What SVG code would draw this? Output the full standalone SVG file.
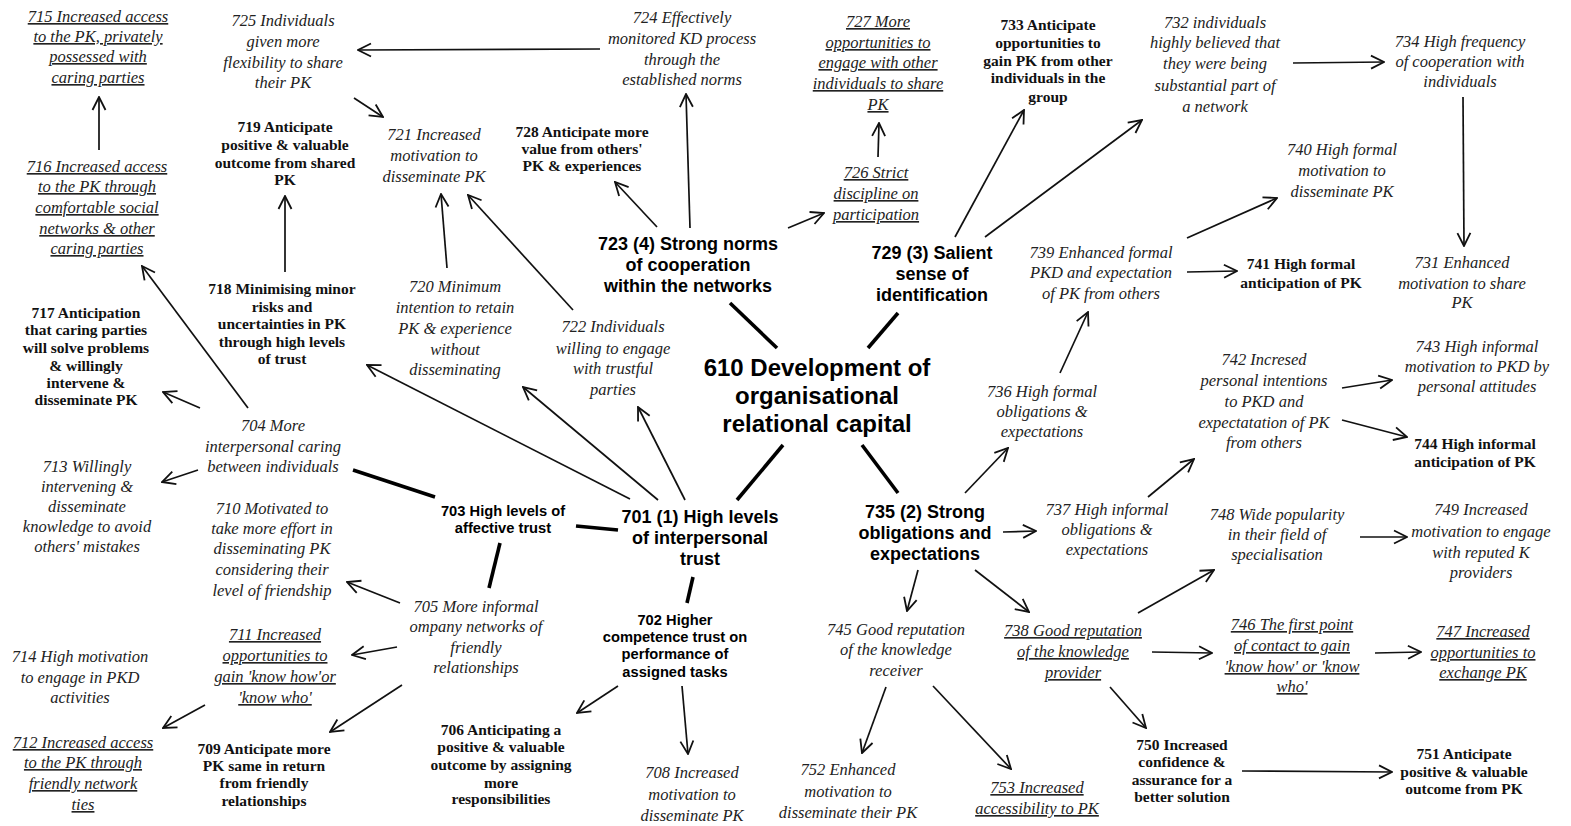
<svg xmlns="http://www.w3.org/2000/svg" width="1571" height="826" viewBox="0 0 1571 826">
<defs>
<style>
text{text-anchor:middle}
.it{font-family:"Liberation Serif","Times New Roman",serif;font-style:italic;font-size:16.5px;fill:#222}
.ul{text-decoration:underline}
.bs{font-family:"Liberation Serif","Times New Roman",serif;font-weight:bold;font-size:15.5px;fill:#111}
.bh{font-family:"Liberation Sans",Arial,sans-serif;font-weight:bold;font-size:18px;fill:#000}
.bh2{font-family:"Liberation Sans",Arial,sans-serif;font-weight:bold;font-size:14.7px;fill:#000}
.title{font-family:"Liberation Sans",Arial,sans-serif;font-weight:bold;font-size:24px;fill:#000}
.ar{stroke:#111;stroke-width:1.7;fill:none;marker-end:url(#ah)}
.tk{stroke:#000;stroke-width:3.6;fill:none}
</style>
<marker id="ah" viewBox="0 0 16 16" refX="15" refY="8" markerWidth="16" markerHeight="16" markerUnits="userSpaceOnUse" orient="auto">
<path d="M2,1.5 L15,8 L2,14.5" fill="none" stroke="#111" stroke-width="1.8"/>
</marker>
</defs>
<rect width="1571" height="826" fill="#fff"/>

<g id="connectors">
<line class="ar" x1="600" y1="49" x2="358" y2="50"/>
<line class="ar" x1="354" y1="98" x2="383" y2="117"/>
<line class="ar" x1="285" y1="272" x2="285" y2="196"/>
<line class="ar" x1="99" y1="150" x2="99" y2="97"/>
<line class="ar" x1="248" y1="408" x2="142" y2="266"/>
<line class="ar" x1="200" y1="408" x2="163" y2="392"/>
<line class="ar" x1="198" y1="470" x2="162" y2="482"/>
<line class="ar" x1="630" y1="499" x2="367" y2="365"/>
<line class="ar" x1="658" y1="500" x2="523" y2="387"/>
<line class="ar" x1="685" y1="500" x2="638" y2="407"/>
<line class="ar" x1="447" y1="268" x2="441" y2="194"/>
<line class="ar" x1="573" y1="310" x2="468" y2="195"/>
<line class="ar" x1="690" y1="228" x2="686" y2="94"/>
<line class="ar" x1="657" y1="227" x2="615" y2="182"/>
<line class="ar" x1="788" y1="228" x2="824" y2="213"/>
<line class="ar" x1="878" y1="157" x2="879" y2="123"/>
<line class="ar" x1="955" y1="237" x2="1024" y2="110"/>
<line class="ar" x1="985" y1="237" x2="1142" y2="120"/>
<line class="ar" x1="1293" y1="63" x2="1384" y2="62"/>
<line class="ar" x1="1463" y1="97" x2="1464" y2="246"/>
<line class="ar" x1="1187" y1="238" x2="1277" y2="198"/>
<line class="ar" x1="1187" y1="272" x2="1237" y2="271"/>
<line class="ar" x1="1060" y1="373" x2="1088" y2="312"/>
<line class="ar" x1="965" y1="493" x2="1008" y2="448"/>
<line class="ar" x1="1003" y1="532" x2="1036" y2="531"/>
<line class="ar" x1="1148" y1="497" x2="1194" y2="459"/>
<line class="ar" x1="1342" y1="388" x2="1392" y2="380"/>
<line class="ar" x1="1342" y1="420" x2="1407" y2="437"/>
<line class="ar" x1="1138" y1="613" x2="1214" y2="570"/>
<line class="ar" x1="1360" y1="537" x2="1407" y2="537"/>
<line class="ar" x1="918" y1="570" x2="907" y2="611"/>
<line class="ar" x1="975" y1="570" x2="1029" y2="612"/>
<line class="ar" x1="1152" y1="652" x2="1212" y2="653"/>
<line class="ar" x1="1375" y1="653" x2="1421" y2="652"/>
<line class="ar" x1="1110" y1="687" x2="1146" y2="728"/>
<line class="ar" x1="1242" y1="771" x2="1392" y2="772"/>
<line class="ar" x1="886" y1="687" x2="862" y2="753"/>
<line class="ar" x1="933" y1="686" x2="1011" y2="769"/>
<line class="ar" x1="618" y1="686" x2="577" y2="713"/>
<line class="ar" x1="682" y1="686" x2="688" y2="754"/>
<line class="ar" x1="400" y1="603" x2="347" y2="582"/>
<line class="ar" x1="397" y1="647" x2="352" y2="655"/>
<line class="ar" x1="402" y1="685" x2="330" y2="732"/>
<line class="ar" x1="205" y1="705" x2="163" y2="728"/>
<line class="tk" x1="353" y1="470" x2="435" y2="497"/>
<line class="tk" x1="576" y1="526" x2="618" y2="530"/>
<line class="tk" x1="500" y1="543" x2="489" y2="588"/>
<line class="tk" x1="737" y1="500" x2="783" y2="445"/>
<line class="tk" x1="693" y1="577" x2="687" y2="603"/>
<line class="tk" x1="730" y1="303" x2="777" y2="348"/>
<line class="tk" x1="898" y1="313" x2="868" y2="348"/>
<line class="tk" x1="862" y1="445" x2="898" y2="493"/>
</g>

<g id="n610"><text class="title"><tspan x="817" y="376">610 Development of</tspan><tspan x="817" y="404">organisational</tspan><tspan x="817" y="432">relational capital</tspan></text></g>
<g id="n701"><text class="bh"><tspan x="700" y="523">701 (1) High levels</tspan><tspan x="700" y="544">of interpersonal</tspan><tspan x="700" y="565">trust</tspan></text></g>
<g id="n723"><text class="bh"><tspan x="688" y="250">723 (4) Strong norms</tspan><tspan x="688" y="271">of cooperation</tspan><tspan x="688" y="292">within the networks</tspan></text></g>
<g id="n729"><text class="bh"><tspan x="932" y="259">729 (3) Salient</tspan><tspan x="932" y="280">sense of</tspan><tspan x="932" y="301">identification</tspan></text></g>
<g id="n735"><text class="bh"><tspan x="925" y="518">735 (2) Strong</tspan><tspan x="925" y="539">obligations and</tspan><tspan x="925" y="560">expectations</tspan></text></g>
<g id="n703"><text class="bh2"><tspan x="503" y="516">703 High levels of</tspan><tspan x="503" y="533">affective trust</tspan></text></g>
<g id="n702"><text class="bh2"><tspan x="675" y="625">702 Higher</tspan><tspan x="675" y="642">competence trust on</tspan><tspan x="675" y="659">performance of</tspan><tspan x="675" y="677">assigned tasks</tspan></text></g>

<g id="n715"><text class="it ul"><tspan x="98" y="22">715 Increased access</tspan><tspan x="98" y="42">to the PK, privately</tspan><tspan x="98" y="62">possessed with</tspan><tspan x="98" y="83">caring parties</tspan></text></g>
<g id="n725"><text class="it"><tspan x="283" y="26">725 Individuals</tspan><tspan x="283" y="47">given more</tspan><tspan x="283" y="68">flexibility to share</tspan><tspan x="283" y="88">their PK</tspan></text></g>
<g id="n724"><text class="it"><tspan x="682" y="23">724 Effectively</tspan><tspan x="682" y="44">monitored KD process</tspan><tspan x="682" y="65">through the</tspan><tspan x="682" y="85">established norms</tspan></text></g>
<g id="n727"><text class="it ul"><tspan x="878" y="27">727 More</tspan><tspan x="878" y="48">opportunities to</tspan><tspan x="878" y="68">engage with other</tspan><tspan x="878" y="89">individuals to share</tspan><tspan x="878" y="110">PK</tspan></text></g>
<g id="n733"><text class="bs"><tspan x="1048" y="30">733 Anticipate</tspan><tspan x="1048" y="48">opportunities to</tspan><tspan x="1048" y="66">gain PK from other</tspan><tspan x="1048" y="83">individuals in the</tspan><tspan x="1048" y="102">group</tspan></text></g>
<g id="n732"><text class="it"><tspan x="1215" y="28">732 individuals</tspan><tspan x="1215" y="48">highly believed that</tspan><tspan x="1215" y="69">they were being</tspan><tspan x="1215" y="91">substantial part of</tspan><tspan x="1215" y="112">a network</tspan></text></g>
<g id="n734"><text class="it"><tspan x="1460" y="47">734 High frequency</tspan><tspan x="1460" y="67">of cooperation with</tspan><tspan x="1460" y="87">individuals</tspan></text></g>
<g id="n719"><text class="bs"><tspan x="285" y="132">719 Anticipate</tspan><tspan x="285" y="150">positive &amp; valuable</tspan><tspan x="285" y="168">outcome from shared</tspan><tspan x="285" y="185">PK</tspan></text></g>
<g id="n721"><text class="it"><tspan x="434" y="140">721 Increased</tspan><tspan x="434" y="161">motivation to</tspan><tspan x="434" y="182">disseminate PK</tspan></text></g>
<g id="n728"><text class="bs"><tspan x="582" y="137">728 Anticipate more</tspan><tspan x="582" y="154">value from others'</tspan><tspan x="582" y="171">PK &amp; experiences</tspan></text></g>
<g id="n726"><text class="it ul"><tspan x="876" y="178">726 Strict</tspan><tspan x="876" y="199">discipline on</tspan><tspan x="876" y="220">participation</tspan></text></g>
<g id="n740"><text class="it"><tspan x="1342" y="155">740 High formal</tspan><tspan x="1342" y="176">motivation to</tspan><tspan x="1342" y="197">disseminate PK</tspan></text></g>
<g id="n716"><text class="it ul"><tspan x="97" y="172">716 Increased access</tspan><tspan x="97" y="192">to the PK through</tspan><tspan x="97" y="213">comfortable social</tspan><tspan x="97" y="234">networks &amp; other</tspan><tspan x="97" y="254">caring parties</tspan></text></g>
<g id="n739"><text class="it"><tspan x="1101" y="258">739 Enhanced formal</tspan><tspan x="1101" y="278">PKD and expectation</tspan><tspan x="1101" y="299">of PK from others</tspan></text></g>
<g id="n741"><text class="bs"><tspan x="1301" y="269">741 High formal</tspan><tspan x="1301" y="288">anticipation of PK</tspan></text></g>
<g id="n731"><text class="it"><tspan x="1462" y="268">731 Enhanced</tspan><tspan x="1462" y="289">motivation to share</tspan><tspan x="1462" y="308">PK</tspan></text></g>
<g id="n718"><text class="bs"><tspan x="282" y="294">718 Minimising minor</tspan><tspan x="282" y="312">risks and</tspan><tspan x="282" y="329">uncertainties in PK</tspan><tspan x="282" y="347">through high levels</tspan><tspan x="282" y="364">of trust</tspan></text></g>
<g id="n717"><text class="bs"><tspan x="86" y="318">717 Anticipation</tspan><tspan x="86" y="335">that caring parties</tspan><tspan x="86" y="353">will solve problems</tspan><tspan x="86" y="371">&amp; willingly</tspan><tspan x="86" y="388">intervene &amp;</tspan><tspan x="86" y="405">disseminate PK</tspan></text></g>
<g id="n720"><text class="it"><tspan x="455" y="292">720 Minimum</tspan><tspan x="455" y="313">intention to retain</tspan><tspan x="455" y="334">PK &amp; experience</tspan><tspan x="455" y="355">without</tspan><tspan x="455" y="375">disseminating</tspan></text></g>
<g id="n722"><text class="it"><tspan x="613" y="332">722 Individuals</tspan><tspan x="613" y="354">willing to engage</tspan><tspan x="613" y="374">with trustful</tspan><tspan x="613" y="395">parties</tspan></text></g>
<g id="n743"><text class="it"><tspan x="1477" y="352">743 High informal</tspan><tspan x="1477" y="372">motivation to PKD by</tspan><tspan x="1477" y="392">personal attitudes</tspan></text></g>
<g id="n742"><text class="it"><tspan x="1264" y="365">742 Incresed</tspan><tspan x="1264" y="386">personal intentions</tspan><tspan x="1264" y="407">to PKD and</tspan><tspan x="1264" y="428">expectatation of PK</tspan><tspan x="1264" y="448">from others</tspan></text></g>
<g id="n736"><text class="it"><tspan x="1042" y="397">736 High formal</tspan><tspan x="1042" y="417">obligations &amp;</tspan><tspan x="1042" y="437">expectations</tspan></text></g>
<g id="n744"><text class="bs"><tspan x="1475" y="449">744 High informal</tspan><tspan x="1475" y="467">anticipation of PK</tspan></text></g>
<g id="n704"><text class="it"><tspan x="273" y="431">704 More</tspan><tspan x="273" y="452">interpersonal caring</tspan><tspan x="273" y="472">between individuals</tspan></text></g>
<g id="n713"><text class="it"><tspan x="87" y="472">713 Willingly</tspan><tspan x="87" y="492">intervening &amp;</tspan><tspan x="87" y="512">disseminate</tspan><tspan x="87" y="532">knowledge to avoid</tspan><tspan x="87" y="552">others' mistakes</tspan></text></g>
<g id="n737"><text class="it"><tspan x="1107" y="515">737 High informal</tspan><tspan x="1107" y="535">obligations &amp;</tspan><tspan x="1107" y="555">expectations</tspan></text></g>
<g id="n748"><text class="it"><tspan x="1277" y="520">748 Wide popularity</tspan><tspan x="1277" y="540">in their field of</tspan><tspan x="1277" y="560">specialisation</tspan></text></g>
<g id="n749"><text class="it"><tspan x="1481" y="515">749 Increased</tspan><tspan x="1481" y="537">motivation to engage</tspan><tspan x="1481" y="558">with reputed K</tspan><tspan x="1481" y="578">providers</tspan></text></g>
<g id="n710"><text class="it"><tspan x="272" y="514">710 Motivated to</tspan><tspan x="272" y="534">take more effort in</tspan><tspan x="272" y="554">disseminating PK</tspan><tspan x="272" y="575">considering their</tspan><tspan x="272" y="596">level of friendship</tspan></text></g>
<g id="n705"><text class="it"><tspan x="476" y="612">705 More informal</tspan><tspan x="476" y="632">ompany networks of</tspan><tspan x="476" y="653">friendly</tspan><tspan x="476" y="673">relationships</tspan></text></g>
<g id="n711"><text class="it ul"><tspan x="275" y="640">711 Increased</tspan><tspan x="275" y="661">opportunities to</tspan><tspan x="275" y="682">gain 'know how'or</tspan><tspan x="275" y="703">'know who'</tspan></text></g>
<g id="n714"><text class="it"><tspan x="80" y="662">714 High motivation</tspan><tspan x="80" y="683">to engage in PKD</tspan><tspan x="80" y="703">activities</tspan></text></g>
<g id="n745"><text class="it"><tspan x="896" y="635">745 Good reputation</tspan><tspan x="896" y="655">of the knowledge</tspan><tspan x="896" y="676">receiver</tspan></text></g>
<g id="n738"><text class="it ul"><tspan x="1073" y="636">738 Good reputation</tspan><tspan x="1073" y="657">of the knowledge</tspan><tspan x="1073" y="678">provider</tspan></text></g>
<g id="n746"><text class="it ul"><tspan x="1292" y="630">746 The first point</tspan><tspan x="1292" y="651">of contact to gain</tspan><tspan x="1292" y="672">'know how' or 'know</tspan><tspan x="1292" y="692">who'</tspan></text></g>
<g id="n747"><text class="it ul"><tspan x="1483" y="637">747 Increased</tspan><tspan x="1483" y="658">opportunities to</tspan><tspan x="1483" y="678">exchange PK</tspan></text></g>
<g id="n706"><text class="bs"><tspan x="501" y="735">706 Anticipating a</tspan><tspan x="501" y="752">positive &amp; valuable</tspan><tspan x="501" y="770">outcome by assigning</tspan><tspan x="501" y="788">more</tspan><tspan x="501" y="804">responsibilities</tspan></text></g>
<g id="n709"><text class="bs"><tspan x="264" y="754">709 Anticipate more</tspan><tspan x="264" y="771">PK same in return</tspan><tspan x="264" y="788">from friendly</tspan><tspan x="264" y="806">relationships</tspan></text></g>
<g id="n712"><text class="it ul"><tspan x="83" y="748">712 Increased access</tspan><tspan x="83" y="768">to the PK through</tspan><tspan x="83" y="789">friendly network</tspan><tspan x="83" y="810">ties</tspan></text></g>
<g id="n708"><text class="it"><tspan x="692" y="778">708 Increased</tspan><tspan x="692" y="800">motivation to</tspan><tspan x="692" y="821">disseminate PK</tspan></text></g>
<g id="n752"><text class="it"><tspan x="848" y="775">752 Enhanced</tspan><tspan x="848" y="797">motivation to</tspan><tspan x="848" y="818">disseminate their PK</tspan></text></g>
<g id="n753"><text class="it ul"><tspan x="1037" y="793">753 Increased</tspan><tspan x="1037" y="814">accessibility to PK</tspan></text></g>
<g id="n750"><text class="bs"><tspan x="1182" y="750">750 Increased</tspan><tspan x="1182" y="767">confidence &amp;</tspan><tspan x="1182" y="785">assurance for a</tspan><tspan x="1182" y="802">better solution</tspan></text></g>
<g id="n751"><text class="bs"><tspan x="1464" y="759">751 Anticipate</tspan><tspan x="1464" y="777">positive &amp; valuable</tspan><tspan x="1464" y="794">outcome from PK</tspan></text></g>
</svg>
